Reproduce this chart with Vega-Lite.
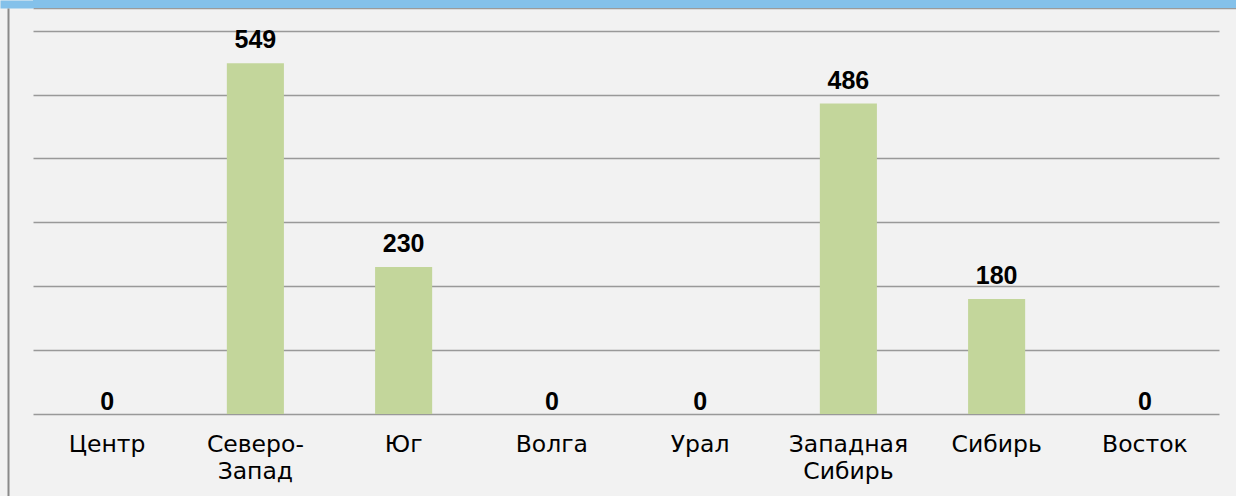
{
  "$schema": "https://vega.github.io/schema/vega-lite/v6.json",
  "background": "#f2f2f2",
  "padding": 0,
  "spacing": 0,
  "config": {
    "view": {"stroke": null},
    "font": "Liberation Sans"
  },
  "vconcat": [
    {
      "width": 1203,
      "height": 8,
      "data": {"values": [{}]},
      "mark": {"type": "rect", "color": "#84c1ea"},
      "encoding": {
        "x": {
          "datum": 0,
          "type": "quantitative",
          "scale": {"domain": [0, 1], "nice": false},
          "axis": {
            "labels": false,
            "ticks": false,
            "grid": false,
            "title": null,
            "domainColor": "#9a9a9a",
            "domainWidth": 1.5
          }
        },
        "x2": {"datum": 1},
        "y": {
          "datum": 0,
          "type": "quantitative",
          "scale": {"domain": [0, 1], "nice": false},
          "axis": {
            "labels": false,
            "ticks": false,
            "grid": false,
            "title": null,
            "offset": 16.5,
            "domainColor": "#84c1ea",
            "domainWidth": 33,
            "domainCap": "butt"
          }
        },
        "y2": {"datum": 1}
      }
    },
    {
      "width": 1186,
      "height": 488,
      "data": {
        "values": [
          {"region": "Центр", "value": 0},
          {"region": "Северо-Запад", "value": 549},
          {"region": "Юг", "value": 230},
          {"region": "Волга", "value": 0},
          {"region": "Урал", "value": 0},
          {"region": "Западная Сибирь", "value": 486},
          {"region": "Сибирь", "value": 180},
          {"region": "Восток", "value": 0}
        ]
      },
      "encoding": {
        "x": {
          "field": "region",
          "type": "nominal",
          "sort": null,
          "scale": {"paddingInner": 0.615, "paddingOuter": 0.3075},
          "axis": {
            "orient": "bottom",
            "offset": -82,
            "domain": false,
            "ticks": false,
            "grid": false,
            "title": null,
            "labelAngle": 0,
            "labelFont": "DejaVu Sans",
            "labelFontSize": 23.5,
            "labelColor": "#000000",
            "labelBaseline": "top",
            "labelPadding": 18,
            "labelLineHeight": 27,
            "labelExpr": "datum.label == 'Северо-Запад' ? ['Северо-', 'Запад'] : datum.label == 'Западная Сибирь' ? ['Западная', 'Сибирь'] : datum.label"
          }
        }
      },
      "layer": [
        {
          "mark": {"type": "bar", "color": "#c3d69b"},
          "encoding": {
            "y": {
              "field": "value",
              "type": "quantitative",
              "scale": {"domain": [-128.4, 635.5], "nice": false, "zero": false},
              "axis": {
                "values": [0, 100, 200, 300, 400, 500, 600],
                "labels": false,
                "ticks": false,
                "title": null,
                "offset": 25,
                "minExtent": 8,
                "domain": true,
                "domainColor": "#8a8a8a",
                "domainWidth": 2,
                "grid": true,
                "gridColor": "#999999",
                "gridWidth": 1.3
              }
            },
            "y2": {"datum": 0}
          }
        },
        {
          "transform": [{"filter": "datum.value > 0"}],
          "mark": {
            "type": "text",
            "baseline": "alphabetic",
            "dy": -15,
            "font": "Liberation Sans",
            "fontWeight": "bold",
            "fontSize": 25,
            "color": "#000000"
          },
          "encoding": {
            "y": {"field": "value", "type": "quantitative"},
            "text": {"field": "value", "type": "quantitative"}
          }
        },
        {
          "transform": [{"filter": "datum.value == 0"}],
          "mark": {
            "type": "text",
            "baseline": "alphabetic",
            "dy": -4,
            "font": "Liberation Sans",
            "fontWeight": "bold",
            "fontSize": 25,
            "color": "#000000"
          },
          "encoding": {
            "y": {"field": "value", "type": "quantitative"},
            "text": {"field": "value", "type": "quantitative"}
          }
        }
      ]
    }
  ]
}
